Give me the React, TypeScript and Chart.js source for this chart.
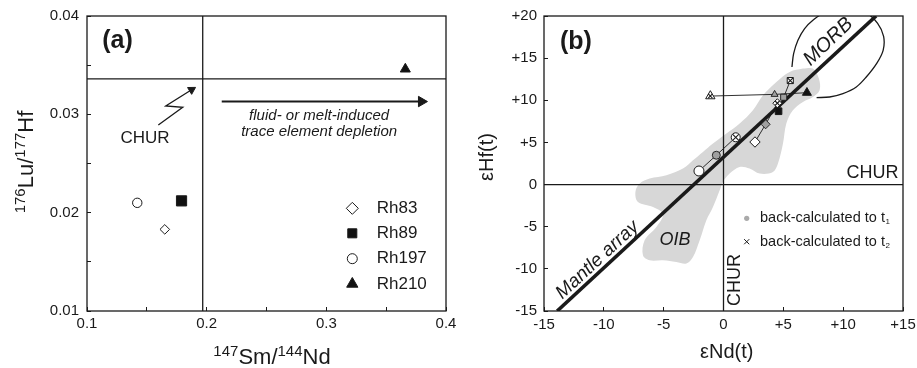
import React, { useEffect, useRef } from 'react';
import { Chart, registerables } from 'chart.js';
import { drawPoint } from 'chart.js/helpers';

Chart.register(...registerables);

const FONT = '"Liberation Sans", Arial, Helvetica, sans-serif';
const INK = '#1a1a1a';
const FIELD_GREY = '#d7d7d7';
const T1_GREY = '#a0a0a0';

// ---------------- panel (a) data ----------------
const sampleNames = ['Rh83', 'Rh89', 'Rh197', 'Rh210'];
const smNd = [0.165, 0.179, 0.142, 0.366];
const luHf = [0.0183, 0.0212, 0.021, 0.0346];
const churSmNd = 0.1967;
const churLuHf = 0.0336;
const xRangeA = [0.1, 0.4];
const yRangeA = [0.01, 0.04];
const xTicksA = [0.1, 0.15, 0.2, 0.25, 0.3, 0.35, 0.4];
const xLabelsA = ['0.1', '', '0.2', '', '0.3', '', '0.4'];
const yTicksA = [0.01, 0.015, 0.02, 0.025, 0.03, 0.035, 0.04];
const yLabelsA = ['0.01', '', '0.02', '', '0.03', '', '0.04'];
const depletionSmNd = [0.2126, 0.3795];
const depletionLuHf = [0.0313, 0.0313];
const pointerSmNd = [0.1596, 0.18, 0.1658, 0.1874];
const pointerLuHf = [0.02892, 0.03072, 0.03085, 0.0325];

// ---------------- panel (b) data ----------------
const eNdMeasured = [2.63, 4.6, -2.05, 6.97];
const eHfMeasured = [5.05, 8.7, 1.61, 10.9];
const eNdT1 = [3.52, 5.03, -0.6, 4.27];
const eHfT1 = [7.15, 10.36, 3.48, 10.7];
const eNdT2 = [4.5, 5.58, 1.02, -1.1];
const eHfT2 = [9.65, 12.34, 5.61, 10.5];
const xRangeB = [-15, 15];
const yRangeB = [-15, 20];
const xTicksB = [-15, -10, -5, 0, 5, 10, 15];
const xLabelsB = ['-15', '-10', '-5', '0', '+5', '+10', '+15'];
const yTicksB = [-15, -10, -5, 0, 5, 10, 15, 20];
const yLabelsB = ['-15', '-10', '-5', '0', '+5', '+10', '+15', '+20'];
const mantleNd = [-13.9, 12.75];
const mantleHf = [-15, 20];
const fieldNd = [6.64, 7.47, 7.97, 8.03, 7.47, 6.64, 5.8, 5.25, 4.97, 4.55, 4.13, 3.02, 2.18, 1.35, 0.51, -0.05, -0.32, -0.88, -1.43, -1.99, -2.55, -3.1, -3.94, -5.06, -6.17, -6.73, -6.59, -5.61, -5.06, -5.89, -7.15, -7.36, -7.0, -6.17, -4.77, -3.39, -2.55, -1.72, -0.88, 0.24, 1.35, 2.46, 3.3, 4.42, 5.53, 6.64];
const fieldHf = [13.76, 13.76, 12.57, 11.19, 10.39, 9.8, 8.81, 7.24, 4.86, 2.49, 1.49, 1.3, 1.9, 2.09, 1.3, 0.31, -0.68, -2.66, -4.24, -6.61, -8.59, -9.37, -9.18, -8.98, -8.98, -8.39, -6.61, -5.03, -3.52, -2.66, -2.06, -0.88, 0.12, 0.71, 1.1, 1.9, 2.88, 3.87, 4.86, 6.05, 7.24, 8.81, 10.59, 12.17, 13.36, 13.76];
const morbNd = [5.72, 5.86, 6.22, 6.78, 7.47, 8.3, 10.1, 12.0, 12.88, 13.38, 13.34, 12.79, 11.93, 11.1, 9.98, 8.87, 7.78];
const morbHf = [13.95, 15.54, 17.12, 18.51, 19.49, 20.25, 20.5, 20.25, 19.13, 17.59, 15.93, 14.35, 12.76, 11.58, 10.79, 10.39, 10.32];

// ---------------- marker styles ----------------
const shapeStyle = ['rectRot', 'rect', 'circle', 'triangle'];
const measuredFill = ['#ffffff', '#111111', '#ffffff', '#111111'];
const radiusA = [4.8, 7.2, 4.7, 5.8];
const radiusMeasuredB = [5.2, 4.7, 5, 5.2];
const radiusT1B = [4.5, 4.3, 4, 4];
const radiusT2B = [4.5, 4.3, 4.5, 5.4];
const crossFactor = [0.7, 1.0, 0.95, 0.55];

const pts = (xs: number[], ys: number[]) => xs.map((x, i) => ({ x, y: ys[i] }));

function axis(range: number[], ticks: number[], labels: string[], horizontal: boolean, size: number, padding: number) {
  return {
    type: 'linear',
    min: range[0],
    max: range[1],
    afterBuildTicks: (s: any) => {
      s.ticks = ticks.map((v) => ({ value: v }));
    },
    afterFit: (s: any) => {
      if (horizontal) s.height = size;
      else s.width = size;
      s.paddingLeft = 0;
      s.paddingRight = 0;
      s.paddingTop = 0;
      s.paddingBottom = 0;
    },
    ticks: {
      autoSkip: false,
      maxRotation: 0,
      minRotation: 0,
      padding,
      color: INK,
      font: { family: FONT, size: 15 },
      callback: (_v: any, i: number) => labels[i],
    },
    grid: { drawOnChartArea: false, drawTicks: true, tickLength: -4, color: INK, lineWidth: 1 },
    border: { display: false },
  };
}

function lineDs(data: any[], width: number, order: number, extra: any = {}) {
  return {
    data,
    showLine: true,
    borderColor: INK,
    borderWidth: width,
    pointRadius: 0,
    pointHoverRadius: 0,
    fill: false,
    tension: 0,
    order,
    ...extra,
  };
}

function pointDs(data: any[], style: string, radius: number, fillColor: string, order: number, extra: any = {}) {
  return {
    data,
    showLine: false,
    pointStyle: style,
    pointRadius: radius,
    pointHoverRadius: radius,
    pointBackgroundColor: fillColor,
    pointBorderColor: INK,
    pointBorderWidth: 1,
    order,
    ...extra,
  };
}

function drawRich(ctx: CanvasRenderingContext2D, parts: { t: string; sup?: boolean }[], cx: number, by: number, main: number, sup: number, rise: number) {
  const f = (s: number) => `${s}px ${FONT}`;
  let total = 0;
  const ws = parts.map((p) => {
    ctx.font = f(p.sup ? sup : main);
    const w = ctx.measureText(p.t).width;
    total += w;
    return w;
  });
  let x = cx - total / 2;
  ctx.textAlign = 'left';
  ctx.textBaseline = 'alphabetic';
  parts.forEach((p, i) => {
    ctx.font = f(p.sup ? sup : main);
    ctx.fillText(p.t, x, p.sup ? by - rise : by);
    x += ws[i];
  });
}

function text(ctx: CanvasRenderingContext2D, s: string, x: number, y: number, size: number, opts: any = {}) {
  ctx.save();
  ctx.translate(x, y);
  if (opts.rot) ctx.rotate(opts.rot);
  ctx.font = `${opts.italic ? 'italic ' : ''}${opts.bold ? 'bold ' : ''}${size}px ${FONT}`;
  ctx.textAlign = opts.align || 'center';
  ctx.textBaseline = opts.baseline || 'middle';
  ctx.fillStyle = INK;
  ctx.fillText(s, 0, 0);
  ctx.restore();
}

function frame(chart: any) {
  const { ctx, chartArea: a } = chart;
  ctx.save();
  ctx.strokeStyle = INK;
  ctx.lineWidth = 1.3;
  ctx.strokeRect(a.left, a.top, a.right - a.left, a.bottom - a.top);
  ctx.restore();
}

const annotA = {
  id: 'annotA',
  afterDraw(chart: any) {
    const { ctx } = chart;
    const X = (v: number) => chart.scales.x.getPixelForValue(v);
    const Y = (v: number) => chart.scales.y.getPixelForValue(v);
    frame(chart);
    ctx.save();
    ctx.fillStyle = INK;
    text(ctx, '(a)', X(0.1255), Y(0.0374), 25, { bold: true });
    text(ctx, 'CHUR', X(0.1485), Y(0.0276), 17);
    text(ctx, 'fluid- or melt-induced', X(0.294), Y(0.02942), 15, { italic: true, baseline: 'alphabetic' });
    text(ctx, 'trace element depletion', X(0.294), Y(0.02783), 15, { italic: true, baseline: 'alphabetic' });
    // legend
    const legY = [0.02044, 0.0179, 0.01532, 0.01275];
    const radL = [6, 6.4, 5, 6.5];
    sampleNames.forEach((n, i) => {
      ctx.fillStyle = measuredFill[i];
      ctx.strokeStyle = INK;
      ctx.lineWidth = 1;
      drawPoint(ctx, { pointStyle: shapeStyle[i], radius: radL[i], rotation: 0, borderWidth: 1 } as any, X(0.3217), Y(legY[i]));
      text(ctx, n, X(0.3421), Y(legY[i]), 17, { align: 'left' });
    });
    // axis titles
    ctx.fillStyle = INK;
    drawRich(ctx, [{ t: '147', sup: true }, { t: 'Sm/' }, { t: '144', sup: true }, { t: 'Nd' }], 272, 364, 22, 15, 8);
    ctx.save();
    ctx.translate(33, 162);
    ctx.rotate(-Math.PI / 2);
    drawRich(ctx, [{ t: '176', sup: true }, { t: 'Lu/' }, { t: '177', sup: true }, { t: 'Hf' }], 0, 0, 22, 15, 8);
    ctx.restore();
    ctx.restore();
  },
};

const annotB = {
  id: 'annotB',
  afterDraw(chart: any) {
    const { ctx } = chart;
    const X = (v: number) => chart.scales.x.getPixelForValue(v);
    const Y = (v: number) => chart.scales.y.getPixelForValue(v);
    frame(chart);
    const ang = Math.atan2(Y(mantleHf[1]) - Y(mantleHf[0]), X(mantleNd[1]) - X(mantleNd[0]));
    text(ctx, '(b)', X(-12.33), Y(16.86), 25, { bold: true });
    text(ctx, 'CHUR', X(12.45), Y(1.34), 18);
    text(ctx, 'CHUR', X(1.0), Y(-11.32), 18, { rot: -Math.PI / 2 });
    text(ctx, 'OIB', X(-4.05), Y(-6.52), 18, { italic: true });
    text(ctx, 'Mantle array', X(-10.53), Y(-8.95), 19, { italic: true, rot: ang });
    text(ctx, 'MORB', X(8.76), Y(16.95), 20, { italic: true, rot: ang - 0.02 });
    // legend
    ctx.save();
    ctx.fillStyle = '#aaaaaa';
    ctx.strokeStyle = '#aaaaaa';
    drawPoint(ctx, { pointStyle: 'circle', radius: 2.6, rotation: 0, borderWidth: 0 } as any, X(1.94), Y(-4.0));
    ctx.strokeStyle = INK;
    ctx.lineWidth = 1;
    drawPoint(ctx, { pointStyle: 'crossRot', radius: 3.6, rotation: 0, borderWidth: 1 } as any, X(1.94), Y(-6.78));
    ctx.restore();
    const legRows = [
      { y: -4.0, sub: '1' },
      { y: -6.78, sub: '2' },
    ];
    legRows.forEach((r) => {
      ctx.save();
      ctx.fillStyle = INK;
      ctx.font = `14.5px ${FONT}`;
      ctx.textAlign = 'left';
      ctx.textBaseline = 'middle';
      const s = 'back-calculated to t';
      const x0 = X(3.05);
      ctx.fillText(s, x0, Y(r.y));
      const w = ctx.measureText(s).width;
      ctx.font = `8px ${FONT}`;
      ctx.fillText(r.sub, x0 + w + 0.5, Y(r.y) + 4);
      ctx.restore();
    });
    // axis titles
    ctx.save();
    ctx.fillStyle = INK;
    text(ctx, 'εNd(t)', 266.7, 358, 20, { baseline: 'alphabetic' });
    text(ctx, 'εHf(t)', 33.3, 157, 20, { baseline: 'alphabetic', rot: -Math.PI / 2 });
    ctx.restore();
  },
};

function configA(): any {
  const datasets: any[] = [
    lineDs([{ x: churSmNd, y: yRangeA[0] }, { x: churSmNd, y: yRangeA[1] }], 1.3, 20),
    lineDs([{ x: xRangeA[0], y: churLuHf }, { x: xRangeA[1], y: churLuHf }], 1.3, 20),
    lineDs(pts(depletionSmNd, depletionLuHf), 2, 15),
    pointDs([{ x: depletionSmNd[1], y: depletionLuHf[1] }], 'triangle', 6, INK, 14, { pointRotation: 90 }),
    lineDs(pts(pointerSmNd, pointerLuHf), 1.3, 15),
    pointDs([{ x: pointerSmNd[3], y: pointerLuHf[3] }], 'triangle', 4.6, INK, 14, { pointRotation: 59 }),
  ];
  sampleNames.forEach((_n, i) => {
    datasets.push(pointDs([{ x: smNd[i], y: luHf[i] }], shapeStyle[i], radiusA[i], measuredFill[i], 2));
  });
  return {
    type: 'line',
    data: { datasets },
    options: {
      responsive: false,
      maintainAspectRatio: false,
      devicePixelRatio: 1,
      animation: false,
      events: [],
      layout: { padding: { left: 0, right: 14, top: 16, bottom: 0 } },
      plugins: { legend: { display: false }, tooltip: { enabled: false } },
      scales: {
        x: axis(xRangeA, xTicksA, xLabelsA, true, 57, 8),
        y: axis(yRangeA, yTicksA, yLabelsA, false, 87, 12),
      },
    },
    plugins: [annotA],
  };
}

function configB(): any {
  const datasets: any[] = [
    lineDs(pts(fieldNd, fieldHf), 0, 40, { fill: 'shape', backgroundColor: FIELD_GREY, borderColor: 'rgba(0,0,0,0)', tension: 0.35 }),
    lineDs(pts(morbNd, morbHf), 1.3, 35, { tension: 0.35 }),
    lineDs([{ x: 0, y: yRangeB[0] }, { x: 0, y: yRangeB[1] }], 1.3, 30),
    lineDs([{ x: xRangeB[0], y: 0 }, { x: xRangeB[1], y: 0 }], 1.3, 30),
    lineDs(pts(mantleNd, mantleHf), 3.6, 28),
  ];
  sampleNames.forEach((_n, i) => {
    const chain = [
      { x: eNdMeasured[i], y: eHfMeasured[i] },
      { x: eNdT1[i], y: eHfT1[i] },
      { x: eNdT2[i], y: eHfT2[i] },
    ];
    datasets.push(lineDs(chain, 0.9, 20));
    datasets.push(pointDs([{ x: eNdT2[i], y: eHfT2[i] }], shapeStyle[i], radiusT2B[i], '#ffffff', 6));
    datasets.push(pointDs([{ x: eNdT2[i], y: eHfT2[i] }], 'crossRot', radiusT2B[i] * crossFactor[i], '#ffffff', 1, { pointBorderWidth: 1.1 }));
    datasets.push(pointDs([{ x: eNdT1[i], y: eHfT1[i] }], shapeStyle[i], radiusT1B[i], T1_GREY, 5, { pointBorderWidth: 0.9 }));
    datasets.push(pointDs([{ x: eNdMeasured[i], y: eHfMeasured[i] }], shapeStyle[i], radiusMeasuredB[i], measuredFill[i], 4));
  });
  return {
    type: 'line',
    data: { datasets },
    options: {
      responsive: false,
      maintainAspectRatio: false,
      devicePixelRatio: 1,
      animation: false,
      events: [],
      layout: { padding: { left: 0, right: 14, top: 16, bottom: 0 } },
      plugins: { legend: { display: false }, tooltip: { enabled: false } },
      scales: {
        x: axis(xRangeB, xTicksB, xLabelsB, true, 57, 9),
        y: axis(yRangeB, yTicksB, yLabelsB, false, 84, 11),
      },
    },
    plugins: [annotB],
  };
}

export default function App() {
  const refA = useRef<HTMLCanvasElement>(null);
  const refB = useRef<HTMLCanvasElement>(null);
  useEffect(() => {
    const a = new Chart(refA.current as HTMLCanvasElement, configA());
    const b = new Chart(refB.current as HTMLCanvasElement, configB());
    return () => {
      a.destroy();
      b.destroy();
    };
  }, []);
  return (
    <div style={{ position: 'fixed', left: 0, top: 0, width: 917, height: 368, background: '#ffffff' }}>
      <canvas ref={refA} width={460} height={368} style={{ position: 'absolute', left: 0, top: 0, width: 460, height: 368 }} />
      <canvas ref={refB} width={457} height={368} style={{ position: 'absolute', left: 460, top: 0, width: 457, height: 368 }} />
    </div>
  );
}
